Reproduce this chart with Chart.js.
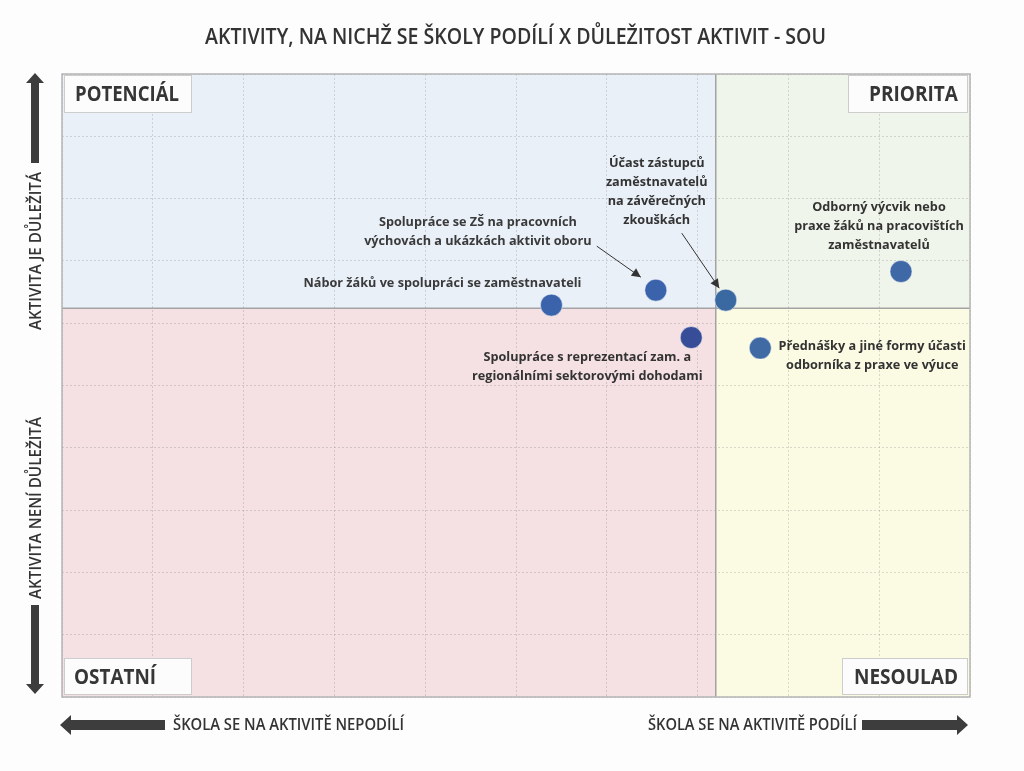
<!DOCTYPE html>
<html>
<head>
<meta charset="utf-8">
<script src="https://cdn.jsdelivr.net/npm/chart.js@4.4.0/dist/chart.umd.min.js"></script>
<style>
  html, body { margin: 0; padding: 0; background: #fdfdfd; }
  canvas { display: block; }
</style>
</head>
<body>
<canvas id="c" width="1024" height="771"></canvas>
<script>
// ---- DATA ----
const chartTitle = 'AKTIVITY, NA NICHŽ SE ŠKOLY PODÍLÍ X DŮLEŽITOST AKTIVIT - SOU';
const categories = [
  'Nábor žáků ve spolupráci se zaměstnavateli',
  'Spolupráce se ZŠ na pracovních výchovách a ukázkách aktivit oboru',
  'Účast zástupců zaměstnavatelů na závěrečných zkouškách',
  'Spolupráce s reprezentací zam. a regionálními sektorovými dohodami',
  'Odborný výcvik nebo praxe žáků na pracovištích zaměstnavatelů',
  'Přednášky a jiné formy účasti odborníka z praxe ve výuce'
];
const labelLines = [
  ['Nábor žáků ve spolupráci se zaměstnavateli'],
  ['Spolupráce se ZŠ na pracovních', 'výchovách a ukázkách aktivit oboru'],
  ['Účast zástupců', 'zaměstnavatelů', 'na závěrečných', 'zkouškách'],
  ['Spolupráce s reprezentací zam. a', 'regionálními sektorovými dohodami'],
  ['Odborný výcvik nebo', 'praxe žáků na pracovištích', 'zaměstnavatelů'],
  ['Přednášky a jiné formy účasti', 'odborníka z praxe ve výuce']
];
const schoolShare = [53.9, 65.4, 73.1, 69.3, 92.4, 76.9];   // x
const importance  = [62.9, 65.3, 63.7, 57.7, 68.3, 56.0];   // y
const xThreshold = 72.0;
const yThreshold = 62.4;
const axisMin = 0, axisMax = 100, axisStep = 10;
const quadrantNames = ['POTENCIÁL', 'PRIORITA', 'OSTATNÍ', 'NESOULAD'];
const yAxisTexts = ['AKTIVITA JE DŮLEŽITÁ', 'AKTIVITA NENÍ DŮLEŽITÁ'];
const xAxisTexts = ['ŠKOLA SE NA AKTIVITĚ NEPODÍLÍ', 'ŠKOLA SE NA AKTIVITĚ PODÍLÍ'];

// ---- STYLE ----
const pointColors = ['#3b63ac', '#3b63ab', '#3a69a1', '#374d97', '#3e69a6', '#3f6aa3'];
const labelOffsets = [[-109, -22], [-178, -68], [-69, -137], [-104, 20], [-22, -63.6], [112, -1.6]];
const leaders = { 1: [[-59, -44], [-15, -13]], 2: [[-44, -67], [-6.5, -12]] };
const quadColors = { tl: '#eaf0f8', tr: '#eff5ea', bl: '#f5e1e3', br: '#fbfbe4' };
const textColor = '#363636';
const OPEN = '"Open Sans", "Noto Sans", sans-serif';

function fitText(ctx, text, x, y, font, targetW, align) {
  ctx.save();
  ctx.font = font;
  const w = ctx.measureText(text).width;
  const sx = targetW / w;
  ctx.translate(x, y);
  ctx.scale(sx, 1);
  ctx.textAlign = align || 'center';
  ctx.textBaseline = 'middle';
  ctx.fillText(text, 0, 0);
  ctx.restore();
}

function poly(ctx, pts, color) {
  ctx.beginPath();
  ctx.moveTo(pts[0][0], pts[0][1]);
  for (let i = 1; i < pts.length; i++) ctx.lineTo(pts[i][0], pts[i][1]);
  ctx.closePath();
  ctx.fillStyle = color;
  ctx.fill();
}

const quadrantPlugin = {
  id: 'quadrants',
  beforeDraw(chart) {
    const { ctx, chartArea: a, scales: { x, y } } = chart;
    const xm = x.getPixelForValue(xThreshold);
    const ym = y.getPixelForValue(yThreshold);
    ctx.save();
    ctx.fillStyle = '#fdfdfd';
    ctx.fillRect(0, 0, chart.width, chart.height);
    ctx.fillStyle = quadColors.tl; ctx.fillRect(a.left, a.top, xm - a.left, ym - a.top);
    ctx.fillStyle = quadColors.tr; ctx.fillRect(xm, a.top, a.right - xm, ym - a.top);
    ctx.fillStyle = quadColors.bl; ctx.fillRect(a.left, ym, xm - a.left, a.bottom - ym);
    ctx.fillStyle = quadColors.br; ctx.fillRect(xm, ym, a.right - xm, a.bottom - ym);
    ctx.restore();
  },
  beforeDatasetsDraw(chart) {
    const { ctx, chartArea: a, scales: { x, y } } = chart;
    const xm = x.getPixelForValue(xThreshold);
    const ym = y.getPixelForValue(yThreshold);
    ctx.save();
    ctx.strokeStyle = '#a3a3a3';
    ctx.lineWidth = 1.5;
    ctx.beginPath();
    ctx.moveTo(xm, a.top); ctx.lineTo(xm, a.bottom);
    ctx.moveTo(a.left, ym); ctx.lineTo(a.right, ym);
    ctx.stroke();
    ctx.strokeStyle = '#b4b4b4';
    ctx.strokeRect(a.left, a.top, a.right - a.left, a.bottom - a.top);

    // quadrant label boxes
    const boxes = [
      { t: quadrantNames[0], x0: a.left + 2, y0: a.top + 1, w: 128, h: 38, tx: a.left + 13, tw: 104, al: 'left' },
      { t: quadrantNames[1], x0: a.right - 122, y0: a.top + 1, w: 120, h: 38, tx: a.right - 12, tw: 89, al: 'right' },
      { t: quadrantNames[2], x0: a.left + 2, y0: a.bottom - 39, w: 128, h: 37, tx: a.left + 12, tw: 82, al: 'left' },
      { t: quadrantNames[3], x0: a.right - 128, y0: a.bottom - 39, w: 126, h: 37, tx: a.right - 12, tw: 104, al: 'right' }
    ];
    boxes.forEach(b => {
      ctx.fillStyle = '#fcfcfc';
      ctx.fillRect(b.x0, b.y0, b.w, b.h);
      ctx.strokeStyle = '#cdcdcd';
      ctx.lineWidth = 1;
      ctx.strokeRect(b.x0 + 0.5, b.y0 + 0.5, b.w - 1, b.h - 1);
      ctx.fillStyle = textColor;
      fitText(ctx, b.t, b.tx, b.y0 + b.h / 2 + 1, `bold 22px ${OPEN}`, b.tw, b.al);
    });
    ctx.restore();
  },
  afterDatasetsDraw(chart) {
    const { ctx, scales: { x, y } } = chart;
    ctx.save();
    ctx.fillStyle = '#3a3a3a';
    const aFont = `bold 12.5px ${OPEN}`;
    ctx.font = aFont;
    const sx = 278 / ctx.measureText(labelLines[0][0]).width;
    schoolShare.forEach((v, i) => {
      const px = x.getPixelForValue(v);
      const py = y.getPixelForValue(importance[i]);
      const [dx, dy] = labelOffsets[i];
      labelLines[i].forEach((line, k) => {
        ctx.save();
        ctx.font = aFont;
        ctx.translate(px + dx, py + dy + k * 19);
        ctx.scale(sx, 1);
        ctx.textAlign = 'center';
        ctx.textBaseline = 'middle';
        ctx.fillText(line, 0, 0);
        ctx.restore();
      });
      if (leaders[i]) {
        const [s, e] = leaders[i];
        const x1 = px + s[0], y1 = py + s[1], x2 = px + e[0], y2 = py + e[1];
        ctx.strokeStyle = '#333';
        ctx.lineWidth = 1;
        ctx.beginPath(); ctx.moveTo(x1, y1); ctx.lineTo(x2, y2); ctx.stroke();
        const ang = Math.atan2(y2 - y1, x2 - x1);
        const L = 9, W = 4.5;
        const bx = x2 - L * Math.cos(ang), by = y2 - L * Math.sin(ang);
        poly(ctx, [[x2, y2],
          [bx + W * Math.sin(ang), by - W * Math.cos(ang)],
          [bx - W * Math.sin(ang), by + W * Math.cos(ang)]], '#333');
      }
    });
    ctx.restore();
  },
  afterDraw(chart) {
    const { ctx } = chart;
    ctx.save();
    ctx.fillStyle = '#333333';
    fitText(ctx, chartTitle, 515.5, 38, `600 21px ${OPEN}`, 621, 'center');
    // bottom labels
    fitText(ctx, xAxisTexts[0], 173, 725, `600 17px ${OPEN}`, 231, 'left');
    fitText(ctx, xAxisTexts[1], 857, 725, `600 17px ${OPEN}`, 209, 'right');
    // vertical labels
    ctx.font = `600 16px ${OPEN}`;
    const vs = 158 / ctx.measureText(yAxisTexts[0]).width;
    [[yAxisTexts[0], 251], [yAxisTexts[1], 508]].forEach(([t, cy]) => {
      ctx.save();
      ctx.translate(36, cy);
      ctx.rotate(-Math.PI / 2);
      ctx.scale(vs, 1);
      ctx.font = `600 16px ${OPEN}`;
      ctx.textAlign = 'center';
      ctx.textBaseline = 'middle';
      ctx.fillText(t, 0, 0);
      ctx.restore();
    });
    // arrows
    const ac = '#3d3d3d';
    poly(ctx, [[31, 163], [31, 83], [26, 83], [35, 73], [44, 83], [39, 83], [39, 163]], ac);
    poly(ctx, [[31, 605], [31, 684], [26, 684], [35, 694], [44, 684], [39, 684], [39, 605]], ac);
    poly(ctx, [[165, 720], [71, 720], [71, 715], [60, 725], [71, 735], [71, 730], [165, 730]], ac);
    poly(ctx, [[862, 720], [957, 720], [957, 715], [968, 725], [957, 735], [957, 730], [862, 730]], ac);
    ctx.restore();
  }
};

const points = schoolShare.map((v, i) => ({ x: v, y: importance[i] }));

new Chart(document.getElementById('c'), {
  type: 'scatter',
  data: {
    datasets: [{
      label: 'Aktivity',
      data: points,
      backgroundColor: pointColors,
      borderColor: 'rgba(255,255,255,0.5)',
      borderWidth: 1,
      pointRadius: 11,
      pointHoverRadius: 11
    }]
  },
  options: {
    responsive: false,
    devicePixelRatio: 1,
    animation: false,
    layout: { padding: { left: 62, top: 74, right: 54, bottom: 74 } },
    plugins: { legend: { display: false }, tooltip: { enabled: false }, title: { display: false } },
    scales: {
      x: {
        type: 'linear', min: axisMin, max: axisMax,
        ticks: { display: false, stepSize: axisStep },
        grid: { color: 'rgba(110,110,110,0.25)', lineWidth: 1, drawTicks: false },
        border: { display: false, dash: [2, 2] },
        afterFit(s) { s.height = 0; }
      },
      y: {
        type: 'linear', min: axisMin, max: axisMax,
        ticks: { display: false, stepSize: axisStep },
        grid: { color: 'rgba(110,110,110,0.25)', lineWidth: 1, drawTicks: false },
        border: { display: false, dash: [2, 2] },
        afterFit(s) { s.width = 0; }
      }
    }
  },
  plugins: [quadrantPlugin]
});
</script>
</body>
</html>
